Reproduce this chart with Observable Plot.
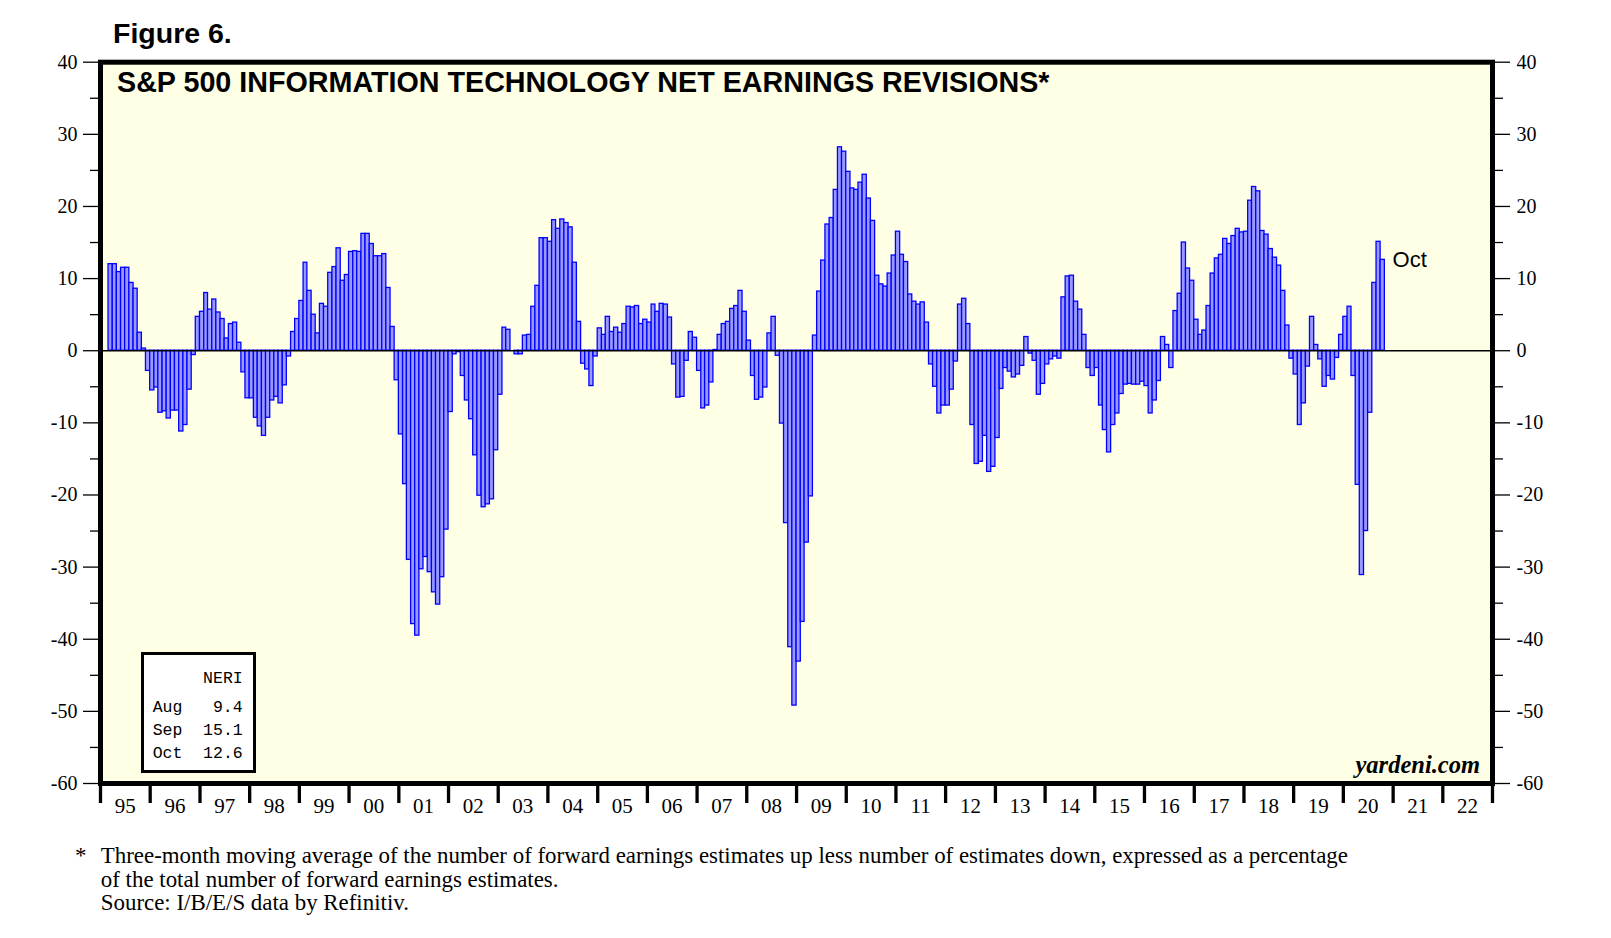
<!DOCTYPE html>
<html>
<head>
<meta charset="utf-8">
<script src="https://cdn.jsdelivr.net/npm/d3@7"></script>
<script src="https://cdn.jsdelivr.net/npm/@observablehq/plot@0.6"></script>
<style>
  html, body { margin: 0; padding: 0; background: #ffffff; }
  #wrap { position: relative; width: 1611px; height: 938px; overflow: hidden; }
  #wrap svg { position: absolute; left: 0; top: 0; }
</style>
</head>
<body>
<div id="wrap"></div>
<script>
// ---------- DATA ----------
// Monthly NERI values (3-mo moving average, %), first value = March 1995, last = October 2020
const firstYear = 1995;
const firstMonthIndex = 2; // March
const neri1995 = [12.0, 12.0, 10.9, 11.5, 11.5, 9.4, 8.6, 2.5, 0.3, -2.8];
const neri1996 = [-5.5, -5.1, -8.6, -8.4, -9.4, -8.3, -8.3, -11.2, -10.3, -5.4, -0.6, 4.7];
const neri1997 = [5.4, 8.0, 5.7, 7.1, 5.3, 4.4, 1.7, 3.7, 3.9, 1.1, -3.0, -6.6];
const neri1998 = [-6.6, -9.3, -10.5, -11.8, -9.3, -6.9, -6.4, -7.3, -4.8, -0.8, 2.6, 4.4];
const neri1999 = [6.9, 12.2, 8.3, 5.0, 2.4, 6.5, 6.1, 10.8, 11.6, 14.2, 9.7, 10.5];
const neri2000 = [13.7, 13.8, 13.7, 16.2, 16.2, 14.8, 13.1, 13.1, 13.4, 8.7, 3.3, -4.1];
const neri2001 = [-11.6, -18.5, -29.0, -37.9, -39.5, -30.3, -28.6, -30.7, -33.5, -35.2, -31.4, -24.8];
const neri2002 = [-8.5, -0.5, -0.2, -3.5, -6.9, -9.5, -14.5, -20.1, -21.7, -21.3, -20.6, -13.8];
const neri2003 = [-6.1, 3.2, 2.9, 0.0, -0.5, -0.5, 2.1, 2.2, 6.1, 9.0, 15.6, 15.6];
const neri2004 = [15.1, 18.1, 16.9, 18.2, 17.7, 17.1, 12.2, 4.0, -1.8, -2.6, -4.9, -0.8];
const neri2005 = [3.1, 2.2, 4.7, 2.6, 3.2, 2.5, 3.7, 6.1, 6.0, 6.2, 3.7, 4.3];
const neri2006 = [3.9, 6.4, 5.4, 6.5, 6.4, 4.6, -1.9, -6.5, -6.4, -1.4, 2.6, 1.8];
const neri2007 = [-2.8, -8.0, -7.6, -4.4, 0.1, 2.2, 3.7, 4.0, 5.8, 6.2, 8.3, 5.4];
const neri2008 = [1.4, -3.5, -6.8, -6.5, -5.1, 2.4, 4.7, -0.7, -10.1, -23.9, -41.1, -49.2];
const neri2009 = [-43.1, -37.6, -26.6, -20.2, 2.1, 8.2, 12.5, 17.5, 18.4, 22.3, 28.2, 27.6];
const neri2010 = [24.8, 22.5, 22.3, 23.3, 24.4, 21.1, 18.0, 10.4, 9.2, 8.9, 10.7, 13.2];
const neri2011 = [16.5, 13.3, 12.3, 7.8, 6.8, 6.4, 6.7, 3.9, -1.9, -5.0, -8.7, -7.6];
const neri2012 = [-7.6, -5.4, -1.5, 6.4, 7.2, 3.7, -10.3, -15.7, -15.4, -11.8, -16.8, -16.1];
const neri2013 = [-12.1, -5.3, -2.4, -2.9, -3.7, -3.3, -2.1, 1.9, -0.4, -1.4, -6.1, -4.6];
const neri2014 = [-1.9, -1.2, -0.8, -1.1, 7.4, 10.3, 10.4, 6.8, 5.7, 2.2, -2.4, -3.5];
const neri2015 = [-2.4, -7.6, -11.0, -14.1, -10.3, -8.7, -6.0, -4.7, -4.6, -4.7, -4.7, -4.3];
const neri2016 = [-4.9, -8.7, -6.9, -4.2, 1.9, 0.8, -2.4, 5.5, 7.9, 15.0, 11.4, 9.7];
const neri2017 = [4.3, 2.2, 2.8, 6.2, 10.7, 12.8, 13.3, 15.5, 14.8, 15.9, 16.9, 16.4];
const neri2018 = [16.5, 20.8, 22.7, 22.1, 16.6, 16.1, 14.1, 12.9, 11.8, 8.3, 3.5, -1.1];
const neri2019 = [-3.3, -10.3, -7.3, -2.2, 4.7, 0.8, -1.2, -5.0, -3.5, -4.0, -1.0, 2.2];
const neri2020 = [4.7, 6.1, -3.5, -18.6, -31.1, -25.0, -8.6, 9.4, 15.1, 12.6];

const yearLabels = ["95","96","97","98","99","00","01","02","03","04","05","06","07","08",
                    "09","10","11","12","13","14","15","16","17","18","19","20","21","22"];
const yMajorTicks = [-60, -50, -40, -30, -20, -10, 0, 10, 20, 30, 40];
const yMinorTicks = [-55, -45, -35, -25, -15, -5, 5, 15, 25, 35];
const legendMonths = ["Aug", "Sep", "Oct"];

const titleText = "S&P 500 INFORMATION TECHNOLOGY NET EARNINGS REVISIONS*";
const figureText = "Figure 6.";
const footnoteLines = [
  "Three-month moving average of the number of forward earnings estimates up less number of estimates down, expressed as a percentage",
  "of the total number of forward earnings estimates.",
  "Source: I/B/E/S data by Refinitiv."
];
const sourceText = "yardeni.com";

// ---------- BUILD TABLE ----------
const allValues = [].concat(neri1995, neri1996, neri1997, neri1998, neri1999, neri2000, neri2001,
  neri2002, neri2003, neri2004, neri2005, neri2006, neri2007, neri2008, neri2009, neri2010,
  neri2011, neri2012, neri2013, neri2014, neri2015, neri2016, neri2017, neri2018, neri2019, neri2020);
const data = allValues.map((v, i) => ({
  start: new Date(Date.UTC(firstYear, firstMonthIndex + i, 1)),
  end: new Date(Date.UTC(firstYear, firstMonthIndex + i + 1, 1)),
  value: v
}));
const last = data[data.length - 1];
const legendRows = legendMonths.map((m, i) => ({month: m, value: data[data.length - 3 + i].value}));

const yearStarts = d3.range(0, yearLabels.length + 1).map(i => new Date(Date.UTC(firstYear + i, 0, 1)));
const yearMids = yearLabels.map((l, i) => ({date: new Date(Date.UTC(firstYear + i, 6, 1)), label: l}));
const labelByTime = new Map(yearMids.map(d => [+d.date, d.label]));

// ---------- PLOT ----------
const W = 1611, H = 938;
const serif = "'Liberation Serif', 'Times New Roman', serif";
const sans = "'Liberation Sans', Arial, sans-serif";
const mono = "'Liberation Mono', 'Courier New', monospace";

const chart = Plot.plot({
  width: W,
  height: H,
  marginLeft: 100,
  marginRight: 119,
  marginTop: 61.7,
  marginBottom: 155,
  style: {background: "transparent", color: "black", fontFamily: serif},
  x: {type: "utc", domain: [yearStarts[0], yearStarts[yearStarts.length - 1]]},
  y: {domain: [-60, 40]},
  marks: [
    Plot.frame({fill: "#ffffe6", stroke: null}),
    Plot.rect(data, {x1: "start", x2: "end", y1: 0, y2: "value",
      fill: "#9999ff", stroke: "#0000ff", strokeWidth: 1.3}),
    Plot.ruleY([0], {stroke: "black", strokeWidth: 1.5}),
    Plot.text([last], {x: "start", y: "value", text: () => "Oct", dx: 12,
      textAnchor: "start", fontFamily: sans, fontSize: 22, fill: "black"}),
    // y axes
    Plot.axisY({anchor: "left", ticks: yMajorTicks, tickSize: 17, tickPadding: 6,
      tickFormat: d => String(d), fontSize: 20, fontFamily: serif, strokeWidth: 1.3, label: null}),
    Plot.axisY({anchor: "left", ticks: yMinorTicks, tickSize: 10,
      tickFormat: () => "", strokeWidth: 1.3, label: null}),
    Plot.axisY({anchor: "right", ticks: yMajorTicks, tickSize: 17, tickPadding: 7,
      tickFormat: d => String(d), fontSize: 20, fontFamily: serif, strokeWidth: 1.3, label: null}),
    Plot.axisY({anchor: "right", ticks: yMinorTicks, tickSize: 10,
      tickFormat: () => "", strokeWidth: 1.3, label: null}),
    // x axis: year boundary ticks + centred labels
    Plot.axisX({ticks: yearStarts, tickSize: 20, tickFormat: () => "", strokeWidth: 3.3, label: null}),
    Plot.axisX({ticks: yearMids.map(d => d.date), tickSize: 0, tickPadding: 15,
      tickFormat: d => labelByTime.get(+d), fontSize: 21, fontFamily: serif, label: null}),
    Plot.frame({stroke: "black", strokeWidth: 5})
  ]
});
document.getElementById("wrap").appendChild(chart);

// ---------- ANNOTATIONS (overlay) ----------
const ov = d3.select("#wrap").append("svg")
  .attr("width", W).attr("height", H)
  .style("pointer-events", "none");

ov.append("text").attr("x", 113).attr("y", 43)
  .attr("font-family", sans).attr("font-weight", "bold").attr("font-size", 28.5)
  .text(figureText);

ov.append("text").attr("x", 117).attr("y", 91.7)
  .attr("font-family", sans).attr("font-weight", "bold").attr("font-size", 28.7)
  .text(titleText);

ov.append("text").attr("x", 1480).attr("y", 773).attr("text-anchor", "end")
  .attr("font-family", serif).attr("font-weight", "bold").attr("font-style", "italic")
  .attr("font-size", 24.5).text(sourceText);

// legend box
const lg = ov.append("g");
lg.append("rect").attr("x", 142.5).attr("y", 653.5).attr("width", 112).attr("height", 118)
  .attr("fill", "white").attr("stroke", "black").attr("stroke-width", 3);
lg.append("text").attr("x", 242.7).attr("y", 683).attr("text-anchor", "end")
  .attr("font-family", mono).attr("font-size", 16.5).text("NERI");
const rowBase = [712, 735, 757.5];
legendRows.forEach((r, i) => {
  lg.append("text").attr("x", 152.7).attr("y", rowBase[i])
    .attr("font-family", mono).attr("font-size", 16.5).text(r.month);
  lg.append("text").attr("x", 242.7).attr("y", rowBase[i]).attr("text-anchor", "end")
    .attr("font-family", mono).attr("font-size", 16.5).text(r.value.toFixed(1));
});

// footnote
ov.append("text").attr("x", 75).attr("y", 863)
  .attr("font-family", serif).attr("font-size", 22.9).text("*");
const fnBase = [863, 886.5, 910];
footnoteLines.forEach((t, i) => {
  ov.append("text").attr("x", 100.8).attr("y", fnBase[i])
    .attr("font-family", serif).attr("font-size", 22.9).text(t);
});
</script>
</body>
</html>
